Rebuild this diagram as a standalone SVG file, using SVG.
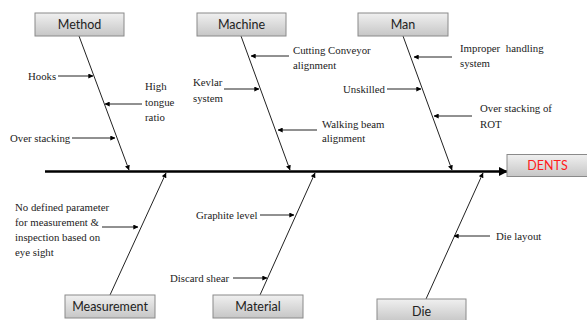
<svg xmlns="http://www.w3.org/2000/svg" width="587" height="320" viewBox="0 0 587 320">
<defs>
<linearGradient id="boxg" x1="0" y1="0" x2="0" y2="1">
<stop offset="0" stop-color="#f0f0f0"/>
<stop offset="1" stop-color="#c6c6c6"/>
</linearGradient>
<marker id="ah" viewBox="0 0 8 8" refX="7.5" refY="4" markerWidth="5" markerHeight="5" orient="auto" markerUnits="userSpaceOnUse">
<path d="M0,0 L8,4 L0,8 z" fill="#000"/>
</marker>
<marker id="bigah" viewBox="0 0 10 10" refX="9" refY="5" markerWidth="9" markerHeight="9" orient="auto" markerUnits="userSpaceOnUse">
<path d="M0,0 L10,5 L0,10 z" fill="#000"/>
</marker>
</defs>
<style>
.box{fill:url(#boxg);stroke:#8a8a8a;stroke-width:1}
.bl{font-family:Lato,'Liberation Sans',sans-serif;font-size:12.5px;fill:#222;text-anchor:middle}
.lb{font-family:'Liberation Serif','Times New Roman',serif;font-size:10.8px;fill:#222}
.br{stroke:#222;stroke-width:1;fill:none;marker-end:url(#ah)}
.ar{stroke:#222;stroke-width:1;fill:none;marker-end:url(#ah)}
.spine{stroke:#000;stroke-width:2.6;fill:none;marker-end:url(#bigah)}
</style>
<rect width="587" height="320" fill="#fff"/>
<g id="connectors">
<line class="spine" x1="45" y1="171.5" x2="507" y2="171.5"/>
<line class="br" x1="79" y1="36" x2="129" y2="170"/>
<line class="br" x1="241" y1="36" x2="290" y2="170"/>
<line class="br" x1="403" y1="36" x2="452" y2="170"/>
<line class="br" x1="110" y1="295" x2="166" y2="173"/>
<line class="br" x1="260" y1="295" x2="315" y2="173"/>
<line class="br" x1="426" y1="299" x2="483" y2="173"/>
<line class="ar" x1="58" y1="76" x2="93" y2="76"/>
<line class="ar" x1="142" y1="104" x2="105" y2="104"/>
<line class="ar" x1="72" y1="138" x2="115" y2="138"/>
<line class="ar" x1="289" y1="56" x2="251" y2="56"/>
<line class="ar" x1="224" y1="89" x2="259" y2="89"/>
<line class="ar" x1="317" y1="130" x2="278" y2="130"/>
<line class="ar" x1="452" y1="57" x2="414" y2="57"/>
<line class="ar" x1="387" y1="89" x2="421" y2="89"/>
<line class="ar" x1="472" y1="116" x2="434" y2="116"/>
<line class="ar" x1="102" y1="227" x2="138" y2="227"/>
<line class="ar" x1="260" y1="215" x2="294" y2="215"/>
<line class="ar" x1="233" y1="278" x2="267" y2="278"/>
<line class="ar" x1="490" y1="236" x2="454" y2="236"/>
</g>
<g id="method"><rect class="box" x="35" y="13" width="89" height="23"/><text class="bl" x="79.5" y="29">Method</text></g>
<g id="machine"><rect class="box" x="197" y="13" width="89" height="23"/><text class="bl" x="241.5" y="29">Machine</text></g>
<g id="man"><rect class="box" x="358" y="13" width="90" height="23"/><text class="bl" x="403" y="29">Man</text></g>
<g id="dents"><rect class="box" x="507" y="154.5" width="82" height="22"/><text class="bl" x="547.5" y="170" style="fill:#ff1a1a">DENTS</text></g>
<g id="measurement"><rect class="box" x="65" y="295" width="90" height="23"/><text class="bl" x="110" y="311">Measurement</text></g>
<g id="material"><rect class="box" x="213" y="295" width="90" height="23"/><text class="bl" x="258" y="311">Material</text></g>
<g id="die"><rect class="box" x="377" y="299" width="89" height="23"/><text class="bl" x="421.5" y="316">Die</text></g>
<g id="method-causes">
<text class="lb" x="28" y="80">Hooks</text>
<text class="lb" x="145" y="90">High</text>
<text class="lb" x="145" y="106">tongue</text>
<text class="lb" x="145" y="121">ratio</text>
<text class="lb" x="10" y="142">Over stacking</text>
</g>
<g id="machine-causes">
<text class="lb" x="293" y="54">Cutting Conveyor</text>
<text class="lb" x="293" y="69">alignment</text>
<text class="lb" x="193" y="86">Kevlar</text>
<text class="lb" x="193" y="102">system</text>
<text class="lb" x="322" y="128">Walking beam</text>
<text class="lb" x="322" y="142">alignment</text>
</g>
<g id="man-causes">
<text class="lb" x="460" y="52" word-spacing="3">Improper handling</text>
<text class="lb" x="460" y="67">system</text>
<text class="lb" x="343" y="93">Unskilled</text>
<text class="lb" x="480" y="112">Over stacking of</text>
<text class="lb" x="480" y="128">ROT</text>
</g>
<g id="measurement-causes">
<text class="lb" x="15" y="211">No defined parameter</text>
<text class="lb" x="15" y="226">for measurement &amp;</text>
<text class="lb" x="15" y="241">inspection based on</text>
<text class="lb" x="15" y="256">eye sight</text>
</g>
<g id="material-causes">
<text class="lb" x="196" y="219">Graphite level</text>
<text class="lb" x="170" y="282">Discard shear</text>
</g>
<g id="die-causes">
<text class="lb" x="496" y="240">Die layout</text>
</g>
</svg>
